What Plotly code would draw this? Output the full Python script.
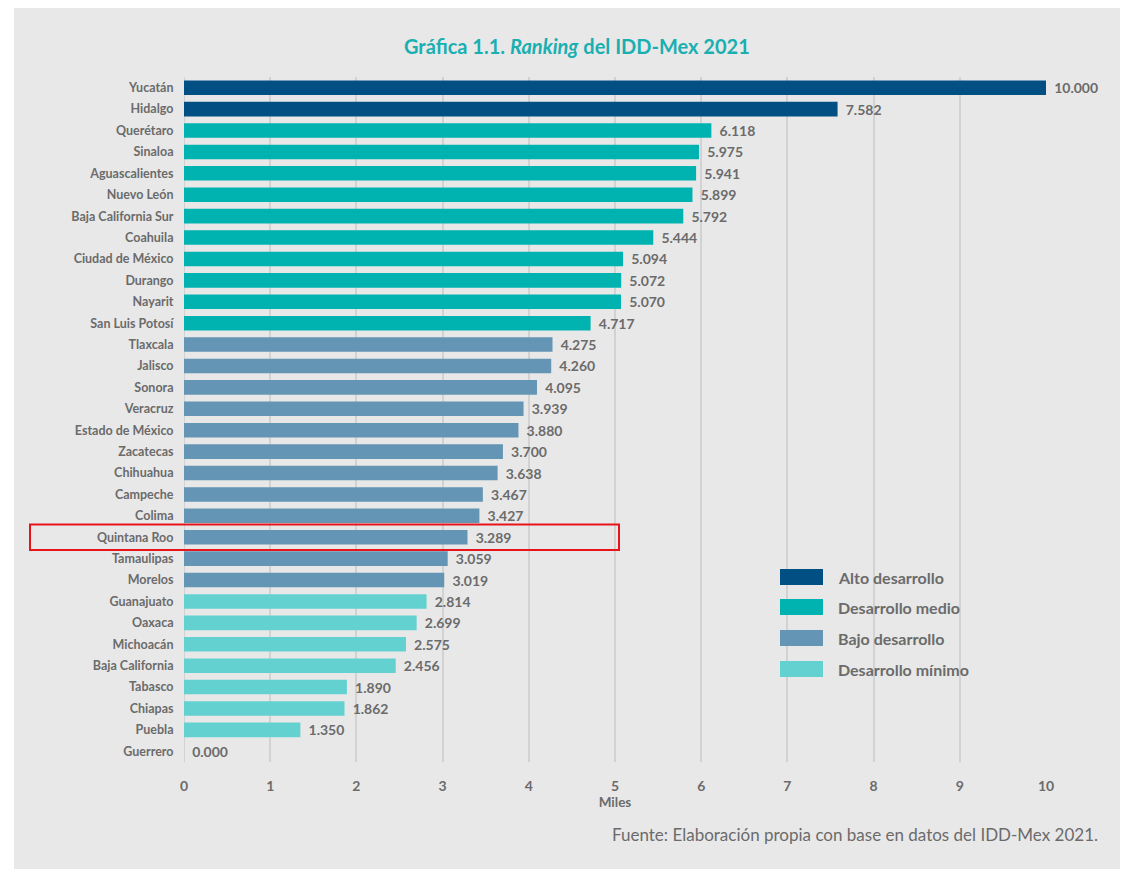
import plotly.graph_objects as go

estados = ["Yucatán", "Hidalgo", "Querétaro", "Sinaloa", "Aguascalientes", "Nuevo León",
           "Baja California Sur", "Coahuila", "Ciudad de México", "Durango", "Nayarit",
           "San Luis Potosí", "Tlaxcala", "Jalisco", "Sonora", "Veracruz", "Estado de México",
           "Zacatecas", "Chihuahua", "Campeche", "Colima", "Quintana Roo", "Tamaulipas",
           "Morelos", "Guanajuato", "Oaxaca", "Michoacán", "Baja California", "Tabasco",
           "Chiapas", "Puebla", "Guerrero"]
valores = [10.000, 7.582, 6.118, 5.975, 5.941, 5.899, 5.792, 5.444, 5.094, 5.072, 5.070,
           4.717, 4.275, 4.260, 4.095, 3.939, 3.880, 3.700, 3.638, 3.467, 3.427, 3.289,
           3.059, 3.019, 2.814, 2.699, 2.575, 2.456, 1.890, 1.862, 1.350, 0.000]
niveles = ["Alto"] * 2 + ["Medio"] * 10 + ["Bajo"] * 12 + ["Mínimo"] * 8

grupos = ["Alto", "Medio", "Bajo", "Mínimo"]
etiquetas = ["Alto desarrollo", "Desarrollo medio", "Bajo desarrollo", "Desarrollo mínimo"]
colores = {"Alto": "#024f83", "Medio": "#00b3b0", "Bajo": "#6595b5", "Mínimo": "#64d1d1"}
x_ticks = list(range(0, 11))

GRAY = "#6b6b6b"
FONT = "Lato"

fig = go.Figure()
for g in grupos:
    ys = [e for e, n in zip(estados, niveles) if n == g]
    xs = [v for v, n in zip(valores, niveles) if n == g]
    fig.add_trace(go.Bar(
        y=ys, x=xs, orientation="h", name=g,
        marker=dict(color=colores[g], line=dict(width=0)),
        width=0.68,
        text=["\u00a0\u2009" + f"{v:.3f}" for v in xs], textposition="outside",
        constraintext="none",
        textfont=dict(family=FONT, size=14, color=GRAY, weight="bold"),
        cliponaxis=False, showlegend=False,
    ))

W, H = 1133, 869
OFF = 8  # page body margin
L, R, T, B = 176, 95, 69, 115
pw, ph = W - L - R, H - T - B

def px_x(p):
    return (p - OFF - L) / pw

def px_y(p):
    return (H - B - (p - OFF)) / ph

qr = estados.index("Quintana Roo")
shapes = [
    dict(type="rect", xref="paper", yref="paper", layer="below",
         x0=px_x(14), x1=px_x(1120), y0=px_y(869), y1=px_y(8),
         fillcolor="#e8e8e8", line=dict(width=0)),
    dict(type="rect", xref="paper", yref="y", x0=px_x(30), x1=px_x(619),
         y0=qr - 0.6, y1=qr + 0.6,
         line=dict(color="#e8141b", width=2), fillcolor="rgba(0,0,0,0)"),
]
annotations = [
    dict(text="Gráfica 1.1. <i>Ranking</i> del IDD-Mex 2021", xref="paper", yref="paper",
         x=px_x(577), y=px_y(46), xanchor="center", yanchor="middle", showarrow=False,
         font=dict(family=FONT, size=20, color="#1aafb1", weight="bold")),
    dict(text="Fuente: Elaboración propia con base en datos del IDD-Mex 2021.", xref="paper",
         yref="paper", x=px_x(1100), y=px_y(834), xanchor="right", yanchor="middle",
         showarrow=False, font=dict(family=FONT, size=17, color=GRAY)),
]
leg_y = [577, 607, 638, 669]
for g, lab, yy in zip(grupos, etiquetas, leg_y):
    shapes.append(dict(type="rect", xref="paper", yref="paper", x0=px_x(780), x1=px_x(823),
                       y0=px_y(yy + 8), y1=px_y(yy - 8), fillcolor=colores[g],
                       line=dict(width=0)))
    annotations.append(dict(text=lab, xref="paper", yref="paper", x=px_x(836), y=px_y(yy),
                            xanchor="left", yanchor="middle", showarrow=False,
                            font=dict(family=FONT, size=16, color=GRAY, weight="bold")))

fig.update_layout(
    width=W, height=H,
    margin=dict(l=L, r=R, t=T, b=B, autoexpand=False),
    paper_bgcolor="white", plot_bgcolor="rgba(0,0,0,0)",
    barmode="overlay",
    xaxis=dict(range=[0, 10], tickvals=x_ticks, showgrid=True, gridcolor="#d2d2d2",
               gridwidth=2, zeroline=False, showline=False,
               ticks="outside", ticklen=11, tickcolor="rgba(0,0,0,0)",
               tickfont=dict(family=FONT, size=14, color=GRAY, weight="bold"),
               title=dict(text="Miles", standoff=3,
                          font=dict(family=FONT, size=13.5, color=GRAY, weight="bold"))),
    yaxis=dict(categoryorder="array", categoryarray=estados, autorange="reversed",
               range=[31.5, -0.5], showgrid=False, zeroline=False, showline=False,
               ticks="outside", ticklen=7, tickcolor="rgba(0,0,0,0)",
               tickfont=dict(family=FONT, size=12.5, color=GRAY, weight="bold")),
    shapes=shapes, annotations=annotations,
)
fig.add_shape(type="line", xref="x", yref="paper", x0=0, x1=0, y0=0, y1=1,
              line=dict(color="#d2d2d2", width=2), layer="below")

fig.write_html("out.html")
